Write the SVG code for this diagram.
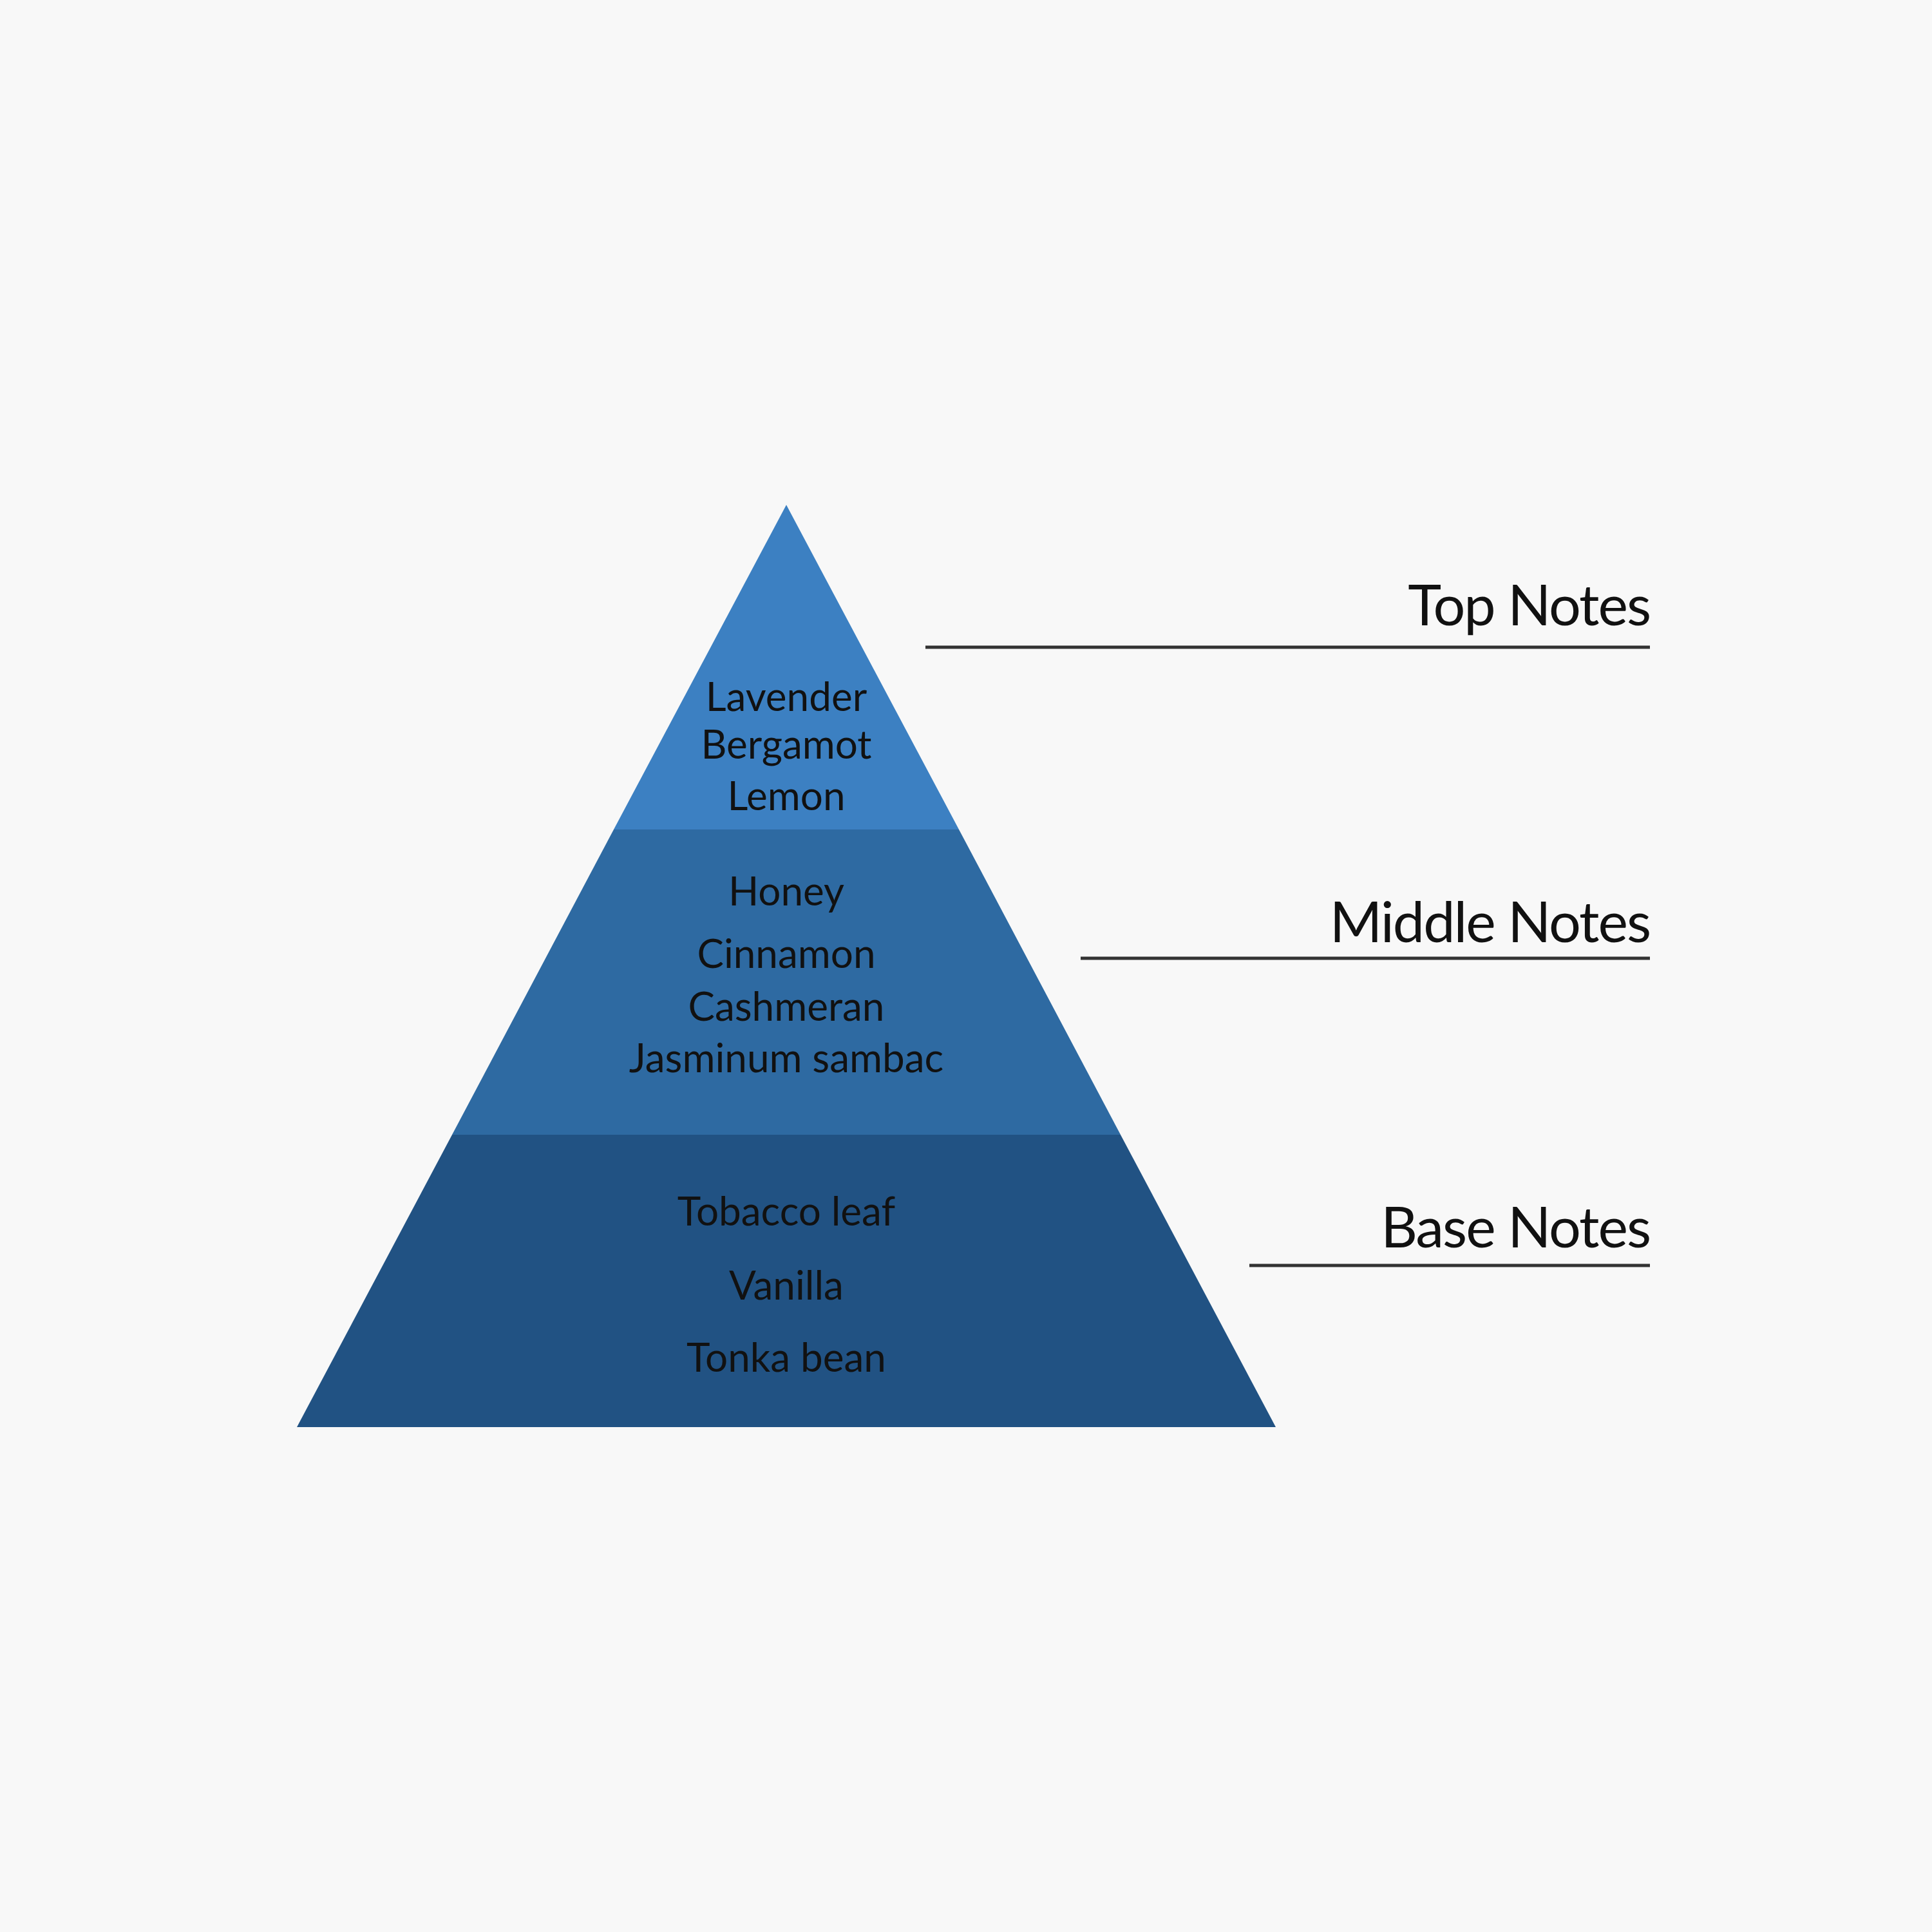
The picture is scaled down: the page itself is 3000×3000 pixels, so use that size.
<svg xmlns="http://www.w3.org/2000/svg" width="3000" height="3000" viewBox="0 0 3000 3000">
<style>
.tier-text{font-family:Lato,"Liberation Sans",sans-serif;font-size:62px;fill:#111;text-anchor:middle}
.label{font-family:Lato,"Liberation Sans",sans-serif;font-size:88px;letter-spacing:-2px;fill:#111;text-anchor:end}
.leader{stroke:#333;stroke-width:5;fill:none}
</style>
<rect width="3000" height="3000" fill="#f8f8f8"/>
<g id="tier-top">
<polygon points="1221,784 1489,1288 953,1288" fill="#3c80c2"/>
<text class="tier-text" x="1221" y="1104">Lavender</text>
<text class="tier-text" x="1221" y="1178">Bergamot</text>
<text class="tier-text" x="1221" y="1258">Lemon</text>
</g>
<g id="tier-middle">
<polygon points="953,1288 1489,1288 1740,1762 702,1762" fill="#2e6aa2"/>
<text class="tier-text" x="1221" y="1406">Honey</text>
<text class="tier-text" x="1221" y="1503">Cinnamon</text>
<text class="tier-text" x="1221" y="1585">Cashmeran</text>
<text class="tier-text" x="1221" y="1665">Jasminum sambac</text>
</g>
<g id="tier-base">
<polygon points="702,1762 1740,1762 1981,2216 461,2216" fill="#215283"/>
<text class="tier-text" x="1221" y="1903">Tobacco leaf</text>
<text class="tier-text" x="1221" y="2018">Vanilla</text>
<text class="tier-text" x="1221" y="2130">Tonka bean</text>
</g>
<g id="label-top"><text class="label" x="2562" y="971">Top Notes</text></g>
<g id="label-middle"><text class="label" x="2562" y="1463">Middle Notes</text></g>
<g id="label-base"><text class="label" x="2562" y="1937">Base Notes</text></g>
<g id="connectors">
<line class="leader" x1="1437" y1="1005" x2="2562" y2="1005"/>
<line class="leader" x1="1678" y1="1488" x2="2562" y2="1488"/>
<line class="leader" x1="1940" y1="1965" x2="2562" y2="1965"/>
</g>
</svg>
